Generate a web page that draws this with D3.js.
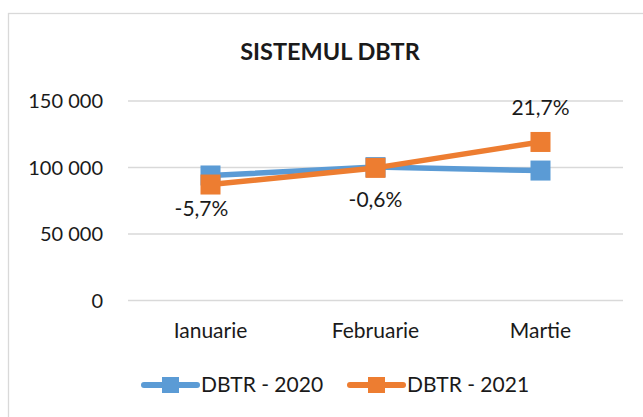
<!DOCTYPE html>
<html lang="en">
<head>
  <meta charset="UTF-8" />
  <title>Sistemul DBTR</title>
  <script src="https://d3js.org/d3.v7.min.js"></script>
  <style>
    body { margin: 0; background: #fff; font-family: Lato, "Open Sans", sans-serif; }
    text { fill: #1a1a1a; }
  </style>
</head>
<body>
  <script>
    // Data
    const months = ["Ianuarie", "Februarie", "Martie"];
    const values2020 = [94000, 100300, 97700];
    const values2021 = [87200, 99700, 119200];
    const changeLabels = ["-5,7%", "-0,6%", "21,7%"];
    const yTicks = [0, 50000, 100000, 150000];
    const seriesNames = ["DBTR - 2020", "DBTR - 2021"];
    const colors = ["#5B9BD5", "#ED7D31"];

    const width = 643, height = 417;
    const svg = d3.select("body").append("svg")
      .attr("width", width)
      .attr("height", height);

    // Chart frame (runs past the right and bottom edges)
    svg.append("rect")
      .attr("x", 8.5).attr("y", 13.5)
      .attr("width", 660).attr("height", 420)
      .attr("fill", "none")
      .attr("stroke", "#d9d9d9")
      .attr("stroke-width", 1.3);

    svg.append("text")
      .attr("x", 330).attr("y", 60)
      .attr("text-anchor", "middle")
      .style("font-size", "23.5px")
      .style("font-weight", "bold")
      .text("SISTEMUL DBTR");

    const x = d3.scaleBand().domain(months).range([128, 623]);
    const y = d3.scaleLinear().domain([0, 150000]).range([300.5, 101]);
    const fmt = v => d3.format(",")(v).replace(/,/g, " ");

    // Gridlines and y labels
    svg.selectAll(".grid").data(yTicks).enter().append("line")
      .attr("x1", 128).attr("x2", 623)
      .attr("y1", d => y(d)).attr("y2", d => y(d))
      .attr("stroke", "#d9d9d9").attr("stroke-width", 1.3);

    svg.selectAll(".ylab").data(yTicks).enter().append("text")
      .attr("x", 103).attr("y", d => y(d))
      .attr("dy", "0.36em")
      .attr("text-anchor", "end")
      .style("font-size", "20px")
      .text(fmt);

    svg.selectAll(".xlab").data(months).enter().append("text")
      .attr("x", d => x(d) + x.bandwidth() / 2).attr("y", 338)
      .attr("text-anchor", "middle")
      .style("font-size", "21px")
      .text(d => d);

    const cx = i => x(months[i]) + x.bandwidth() / 2;
    const line = d3.line().x((d, i) => cx(i)).y(d => y(d));

    [values2020, values2021].forEach((vals, s) => {
      svg.append("path")
        .attr("d", line(vals))
        .attr("fill", "none")
        .attr("stroke", colors[s])
        .attr("stroke-width", 5.5)
        .attr("stroke-linejoin", "round");
      svg.selectAll(".m" + s).data(vals).enter().append("rect")
        .attr("x", (d, i) => cx(i) - 10).attr("y", d => y(d) - 10)
        .attr("width", 20).attr("height", 20)
        .attr("fill", colors[s]);
    });

    // Percentage change labels (placed relative to the 2021 points)
    const labelDx = [-9, 0, 0];
    const labelDy = [31, 39.5, -27];
    svg.selectAll(".pct").data(changeLabels).enter().append("text")
      .attr("x", (d, i) => cx(i) + labelDx[i])
      .attr("y", (d, i) => y(values2021[i]) + labelDy[i])
      .attr("text-anchor", "middle")
      .style("font-size", "21px")
      .text(d => d);

    // Legend
    const legX = [142, 348];
    seriesNames.forEach((name, s) => {
      const g = svg.append("g").attr("transform", `translate(${legX[s]},385)`);
      g.append("line").attr("x1", 2).attr("x2", 55)
        .attr("stroke", colors[s]).attr("stroke-width", 6).attr("stroke-linecap", "round");
      g.append("rect").attr("x", 20).attr("y", -8).attr("width", 17).attr("height", 16)
        .attr("fill", colors[s]);
      g.append("text").attr("x", 59).attr("y", 7)
        .style("font-size", "21px").text(name);
    });
  </script>
</body>
</html>
